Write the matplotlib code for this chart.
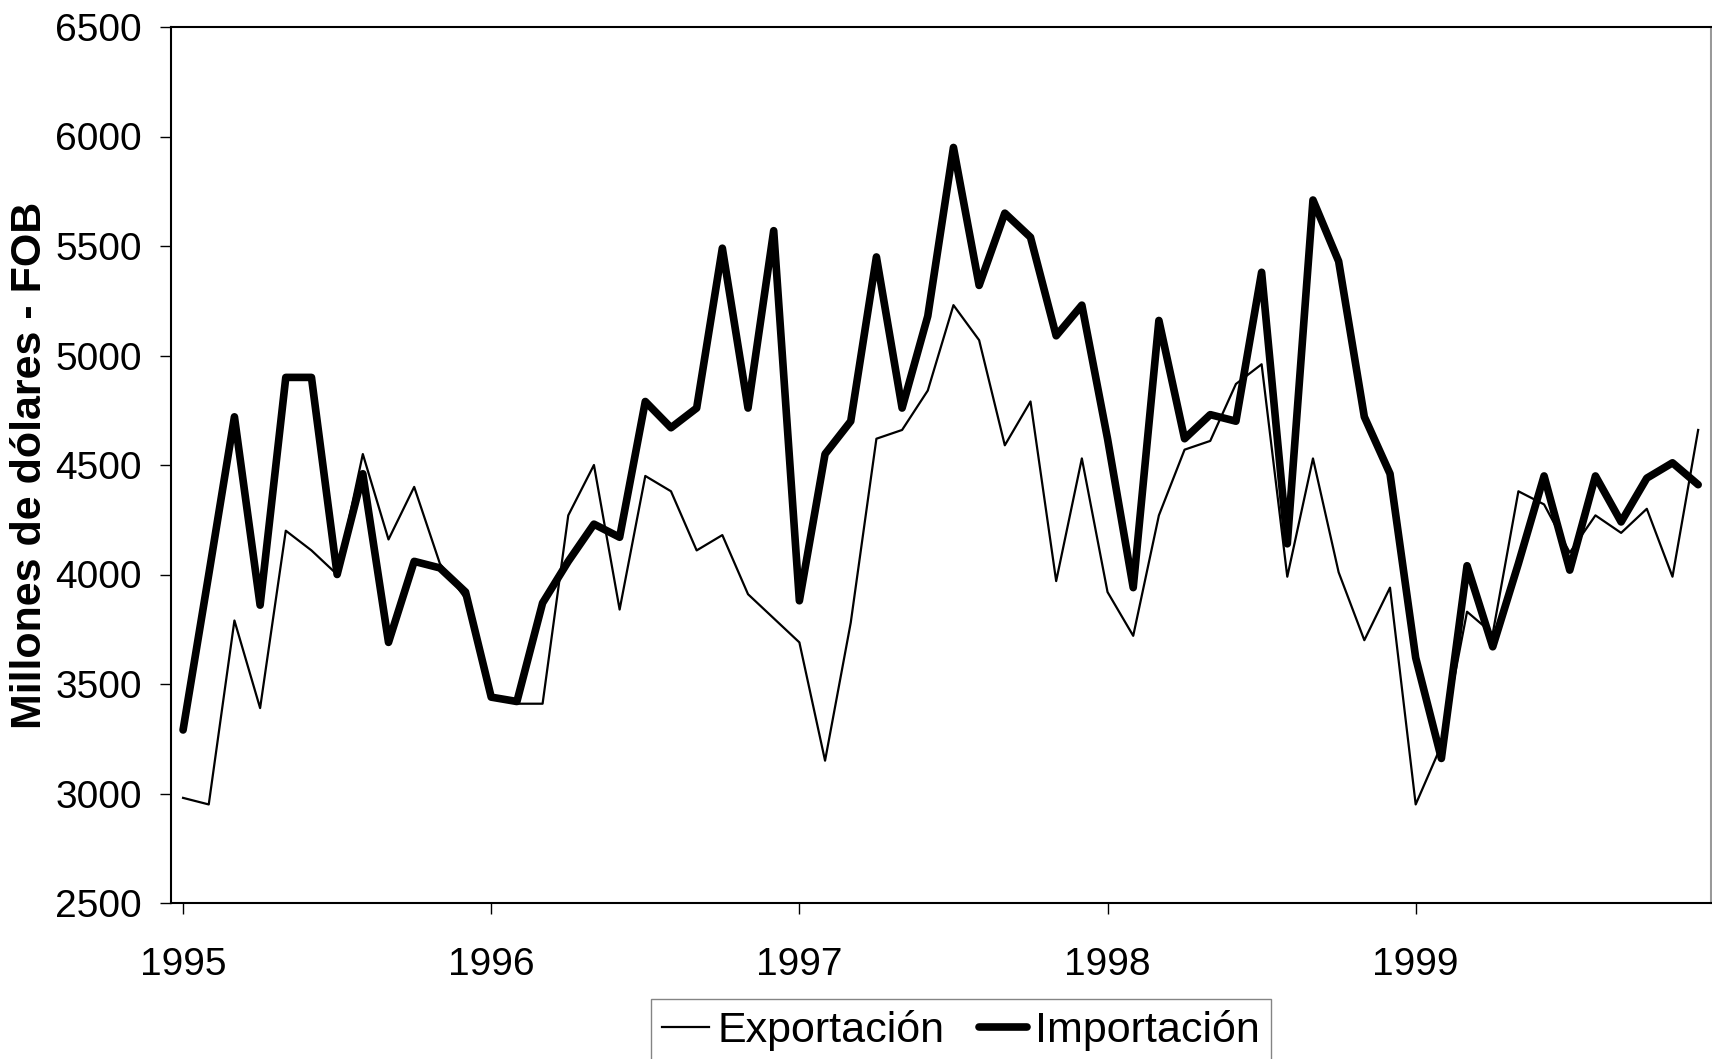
import matplotlib
matplotlib.use("Agg")
import matplotlib.pyplot as plt
import numpy as np

plt.rcParams['font.family'] = ['Liberation Sans', 'DejaVu Sans']

# monthly series, Jan 1995 .. Dec 1999 (millones de dolares FOB)
exportacion = [2980, 2950, 3790, 3390, 4200, 4110, 4000, 4550, 4160, 4400, 4050, 3890,
               3450, 3410, 3410, 4270, 4500, 3840, 4450, 4380, 4110, 4180, 3910, 3800,
               3690, 3150, 3780, 4620, 4660, 4840, 5230, 5070, 4590, 4790, 3970, 4530,
               3920, 3720, 4270, 4570, 4610, 4870, 4960, 3990, 4530, 4010, 3700, 3940,
               2950, 3220, 3830, 3730, 4380, 4320, 4100, 4270, 4190, 4300, 3990, 4660]
importacion = [3290, 4000, 4720, 3860, 4900, 4900, 4000, 4460, 3690, 4060, 4030, 3920,
               3440, 3420, 3870, 4060, 4230, 4170, 4790, 4670, 4760, 5490, 4760, 5570,
               3880, 4550, 4700, 5450, 4760, 5180, 5950, 5320, 5650, 5540, 5090, 5230,
               4620, 3940, 5160, 4620, 4730, 4700, 5380, 4140, 5710, 5430, 4720, 4460,
               3620, 3160, 4040, 3670, 4050, 4450, 4020, 4450, 4240, 4440, 4510, 4410]
years = ['1995', '1996', '1997', '1998', '1999']
yticks = [2500, 3000, 3500, 4000, 4500, 5000, 5500, 6000, 6500]

x = np.arange(len(exportacion))

fig = plt.figure(figsize=(17.12, 10.59), dpi=100)
ax = fig.add_axes([171/1712, 1 - 903/1059, (1711 - 171)/1712, (903 - 27)/1059])

l1, = ax.plot(x, exportacion, color='black', lw=1.6, label='Exportación')
l2, = ax.plot(x, importacion, color='black', lw=5.5, label='Importación',
              solid_joinstyle='round', solid_capstyle='round')

ax.set_xlim(-0.47, 59.5)
ax.set_ylim(2500, 6500)
ax.set_yticks(yticks)
ax.set_xticks(np.arange(0, 60, 12))
ax.set_xticklabels(years)
ax.tick_params(axis='both', labelsize=28, length=8, width=1, direction='out')
ax.tick_params(axis='y', pad=13)
ax.tick_params(axis='x', pad=24)
for s in ax.spines.values():
    s.set_linewidth(1.5)
ax.spines['right'].set_color('#999999')

ax.set_ylabel('Millones de dólares - FOB', fontsize=31, fontweight='bold')
ax.yaxis.set_label_coords(-0.0786, 0.5)

leg = fig.legend(handles=[l1, l2], loc='upper center', bbox_to_anchor=(961/1712, 1 - 999/1059),
                 ncol=2, fontsize=31, frameon=True, fancybox=False, handlelength=1.1,
                 handletextpad=0.2, columnspacing=0.8, borderpad=0.25, borderaxespad=0)
leg.get_frame().set_edgecolor('#666666')
leg.get_frame().set_linewidth(1)

fig.savefig('out.png', dpi=100)
